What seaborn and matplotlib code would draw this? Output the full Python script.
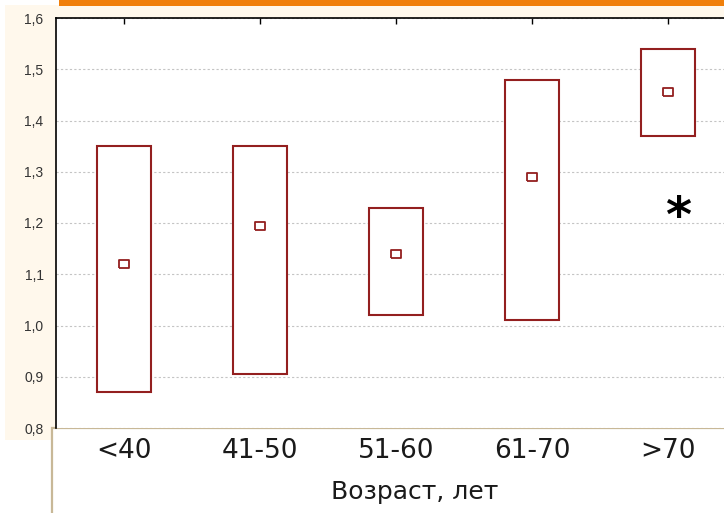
import matplotlib
matplotlib.use("Agg")
import matplotlib.pyplot as plt
from matplotlib.patches import Rectangle
from matplotlib.ticker import FuncFormatter
import seaborn as sns

# Age groups and the interval for each group (lower bound, mean, upper bound)
groups = ["<40", "41-50", "51-60", "61-70", ">70"]
lower = [0.87, 0.905, 1.02, 1.01, 1.37]
upper = [1.35, 1.35, 1.23, 1.48, 1.54]
means = [1.12, 1.195, 1.14, 1.29, 1.455]
y_ticks = [0.8, 0.9, 1.0, 1.1, 1.2, 1.3, 1.4, 1.5, 1.6]
x_title = "Возраст, лет"
marked_group = ">70"

spans = [u - l for u, l in zip(upper, lower)]

sns.set_theme(style="white")
plt.rcParams["font.family"] = ["DejaVu Sans"]

W, H = 724, 513
fig = plt.figure(figsize=(W / 100, H / 100), dpi=100)
fig.patch.set_facecolor("white")

def px(x0, y0, x1, y1):
    """Figure-fraction rectangle from pixel corners (origin top-left)."""
    return (x0 / W, 1 - y1 / H, (x1 - x0) / W, (y1 - y0) / H)

# Panel background and header strip
bx, by, bw, bh = px(5, 5, 724, 440)
fig.patches.append(Rectangle((bx, by), bw, bh, transform=fig.transFigure,
                             facecolor="#FFF8EC", edgecolor="none", zorder=-3))
ox, oy, ow, oh = px(59, 0, 724, 6)
fig.patches.append(Rectangle((ox, oy), ow, oh, transform=fig.transFigure,
                             facecolor="#F07F0A", edgecolor="none", zorder=-2))
# Frame for the category axis area
fx, fy, fw, fh = px(52, 428, 760, 540)
fig.patches.append(Rectangle((fx, fy), fw, fh, transform=fig.transFigure,
                             facecolor="white", edgecolor="#C8B897", linewidth=1.6,
                             zorder=-1))

ax = fig.add_axes(px(56, 18, 736, 428))
ax.set_facecolor("white")

red = "#931F1F"
# flat rectangle marker for the group means
mean_marker = [(-1, -0.7), (1, -0.7), (1, 0.7), (-1, 0.7), (-1, -0.7)]

sns.barplot(x=groups, y=spans, bottom=lower, order=groups, ax=ax,
            width=0.4, color="white", edgecolor=red, linewidth=1.5,
            errorbar=None, zorder=3)
sns.scatterplot(x=groups, y=means, ax=ax, marker=mean_marker, s=55,
                facecolor="white", edgecolor=red, linewidth=1.3, zorder=4,
                legend=False)

ax.text(groups.index(marked_group) + 0.075, 1.209, "*", fontsize=36,
        fontweight="bold", ha="center", va="center", color="black", zorder=5)

ax.set_xlim(-0.5, len(groups) - 0.5)
ax.set_ylim(y_ticks[0], y_ticks[-1])
ax.set_yticks(y_ticks)
ax.yaxis.set_major_formatter(FuncFormatter(lambda v, _: f"{v:.1f}".replace(".", ",")))

ax.set_axisbelow(True)
ax.yaxis.grid(True, color="#C4C4C4", linestyle=(0, (2, 2)), linewidth=0.8)
ax.xaxis.grid(False)

for side in ("right", "bottom"):
    ax.spines[side].set_visible(False)
for side in ("top", "left"):
    ax.spines[side].set_color("black")
    ax.spines[side].set_linewidth(1.2)

ax.tick_params(axis="y", length=0, pad=9, labelsize=10, labelcolor="#333333")
for lbl in ax.get_yticklabels():
    lbl.set_family(["Liberation Sans", "DejaVu Sans"])
ax.tick_params(axis="x", top=True, bottom=False, labeltop=False, labelbottom=True,
               direction="in", length=4, width=1, color="black",
               pad=7, labelsize=19, labelcolor="#1a1a1a")

ax.set_xlabel(x_title, fontsize=18, color="#1a1a1a", va="center")
ax.xaxis.set_label_coords((415 - 56) / 680, (428 - 492) / 410)
ax.set_ylabel("")

fig.savefig("out.png", dpi=100, facecolor=fig.get_facecolor())
